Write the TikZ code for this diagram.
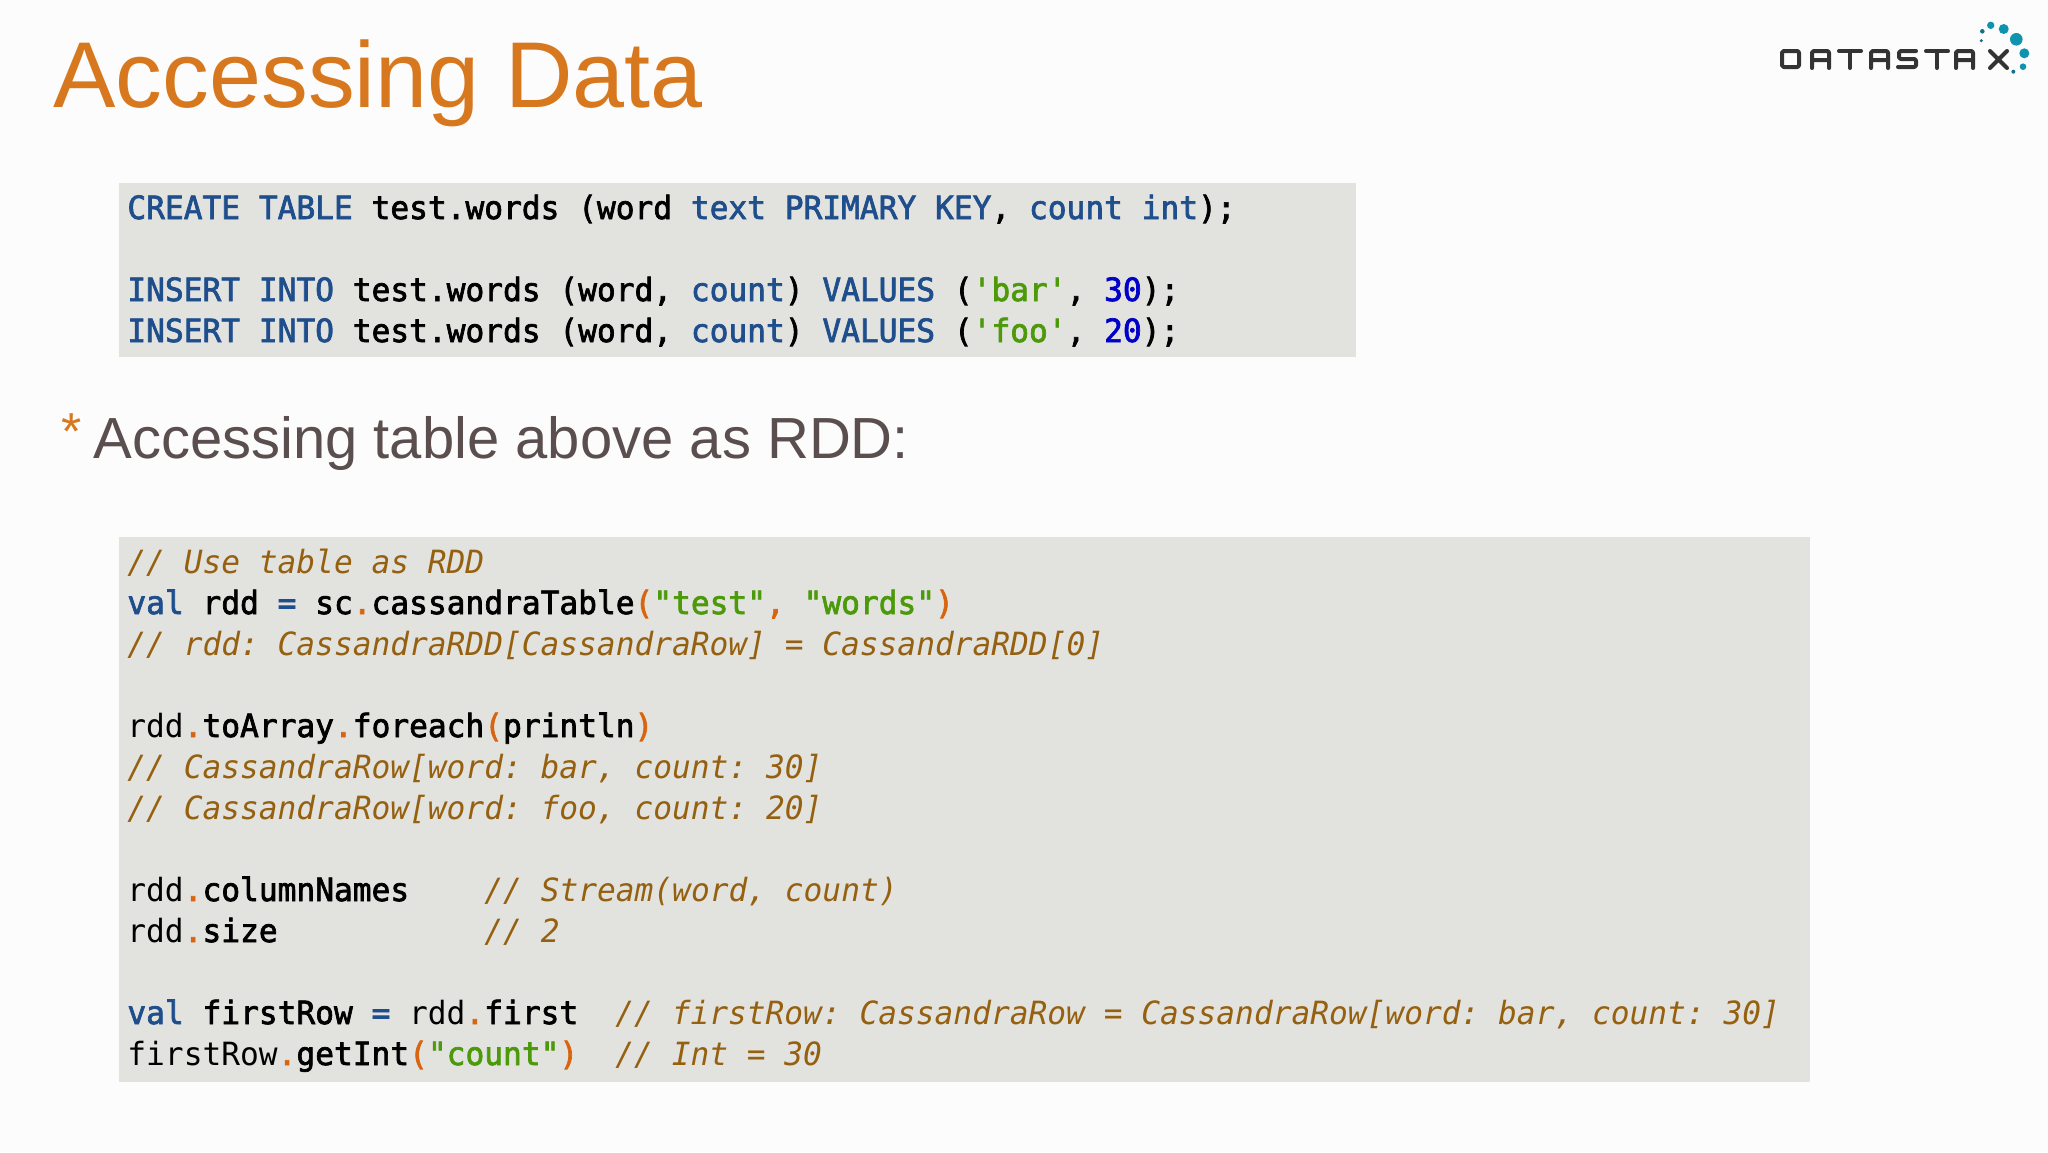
\documentclass[tikz,border=0pt]{standalone}
\usepackage{xcolor}
\usepackage{fontspec}
\setmainfont{Liberation Sans}
\newfontfamily\codefont[FakeStretch=0.975]{DejaVu Sans Mono}
\definecolor{pagecol}{HTML}{FCFCFC}
\definecolor{boxcol}{HTML}{E2E2DF}
\definecolor{titlecol}{HTML}{D8781E}
\definecolor{subcol}{HTML}{5A4E4E}
\definecolor{kwcol}{HTML}{1F4E8C}
\definecolor{strcol}{HTML}{4C9A0A}
\definecolor{numcol}{HTML}{0000C8}
\definecolor{opcol}{HTML}{D9640F}
\definecolor{remcol}{HTML}{95600F}
\definecolor{logocol}{HTML}{333333}
\definecolor{dotcol}{HTML}{0F93AE}
\definecolor{smalldotcol}{HTML}{17708A}
\newcommand{\heavy}{\special{pdf:code 2 Tr 0.35 w}}
\newcommand{\slim}{\special{pdf:code 0 Tr}}
\newcommand{\kw}[1]{\textcolor{kwcol}{#1}}
\newcommand{\strg}[1]{\textcolor{strcol}{#1}}
\newcommand{\num}[1]{\textcolor{numcol}{#1}}
\newcommand{\op}[1]{\textcolor{opcol}{#1}}
\newcommand{\rem}[1]{\slim\textcolor{remcol}{\itshape #1}}
\newcommand{\lite}[1]{\slim #1\heavy}
\usetikzlibrary{positioning}
\tikzset{
  code/.style={anchor=base west, inner sep=0pt, font=\codefont\frenchspacing\fontsize{16}{16}\selectfont, execute at begin node=\heavy},
  logoline/.style={draw=logocol, line width=2pt, rounded corners=0.8pt, line cap=round, line join=round}
}

\begin{document}
\begin{tikzpicture}[x=0.5pt, y=-0.5pt]

      \fill [pagecol] (0, 0) rectangle (2048, 1152);
      \useasboundingbox (0, 0) rectangle (2048, 1152);

      % headings
      \node [anchor=base west, inner sep=0pt, text=titlecol, font=\fontsize{46.75}{47}\selectfont] (title) at (53, 107) {Accessing Data};
      \node [anchor=base west, inner sep=0pt, text=titlecol, font=\fontsize{26}{26}\selectfont] (star) at (61.5, 449) {*};
      \node [anchor=base west, inner sep=0pt, text=subcol, font=\fontsize{29}{29}\selectfont] (sub) at (93, 458.5) {Accessing table above as RDD:};

      % code boxes
      \fill [boxcol] (119, 183) rectangle (1356, 357);
      \fill [boxcol] (119, 537) rectangle (1810, 1082);

      \node [code] (create) at (127, 219) {\kw{CREATE} \kw{TABLE} test.words (word \kw{text} \kw{PRIMARY} \kw{KEY}, \kw{count} \kw{int});};
      \node [code] (bar) at (127, 301) {\kw{INSERT} \kw{INTO} test.words (word, \kw{count}) \kw{VALUES} (\strg{'bar'}, \num{30});};
      \node [code] (foo) at (127, 342) {\kw{INSERT} \kw{INTO} test.words (word, \kw{count}) \kw{VALUES} (\strg{'foo'}, \num{20});};

      \node [code] (use) at (127, 573) {\rem{// Use table as RDD}};
      \node [code] (val) at (127, 614) {\kw{val} rdd \kw{=} sc\op{.}cassandraTable\op{(}\strg{"test"}\op{,} \strg{"words"}\op{)}};
      \node [code] (type) at (127, 655) {\rem{// rdd: CassandraRDD[CassandraRow] = CassandraRDD[0]}};
      \node [code] (toarray) at (127, 737) {\lite{rdd}\op{.}toArray\op{.}foreach\op{(}println\op{)}};
      \node [code] (rowa) at (127, 778) {\rem{// CassandraRow[word: bar, count: 30]}};
      \node [code] (rowb) at (127, 819) {\rem{// CassandraRow[word: foo, count: 20]}};
      \node [code] (names) at (127, 901) {\lite{rdd}\op{.}columnNames};
      \node [code] (namesrem) at (484, 901) {\rem{// Stream(word, count)}};
      \node [code] (size) at (127, 942) {\lite{rdd}\op{.}size};
      \node [code] (sizerem) at (484, 942) {\rem{// 2}};
      \node [code] (first) at (127, 1024) {\kw{val} firstRow \kw{=} \lite{rdd}\op{.}first};
      \node [code] (firstrem) at (615, 1024) {\rem{// firstRow: CassandraRow = CassandraRow[word: bar, count: 30]}};
      \node [code] (getint) at (127, 1065) {\lite{firstRow}\op{.}getInt\op{(}\strg{"count"}\op{)}};
      \node [code] (getintrem) at (615, 1065) {\rem{// Int = 30}};

      % logo
      \draw [logoline] (1782, 51) -- (1799, 51) -- (1799, 67) -- (1782, 67) -- cycle;
      \foreach \x in {1812, 1871, 1956}
        \draw [logoline] (\x, 68) -- (\x, 51) -- (\x+17, 51) -- (\x+17, 68) (\x, 60) -- (\x+17, 60);
      \foreach \x in {1850, 1937}
        \draw [logoline] (\x-11, 51) -- (\x+11, 51) (\x, 51) -- (\x, 68);
      \draw [logoline] (1916, 51) -- (1899, 51) -- (1899, 59) -- (1916, 59) -- (1916, 67) -- (1898, 67);
      \draw [logoline] (1990, 51) -- (2007, 68) (2007, 51) -- (1990, 68);
      \foreach \x/\y/\r in {1990.7/25.3/3.7, 2003.7/29/5, 2016.3/39.3/6.3, 2024.3/53.3/5, 2023/66.7/3.3}
        \fill [dotcol] (\x, \y) circle [radius=\r];
      \foreach \x/\y/\r in {1982.3/31.3/2.3, 1981.3/40.7/1.7, 2013.3/71.7/2}
        \fill [smalldotcol] (\x, \y) circle [radius=\r];

    \end{tikzpicture}
\end{document}
